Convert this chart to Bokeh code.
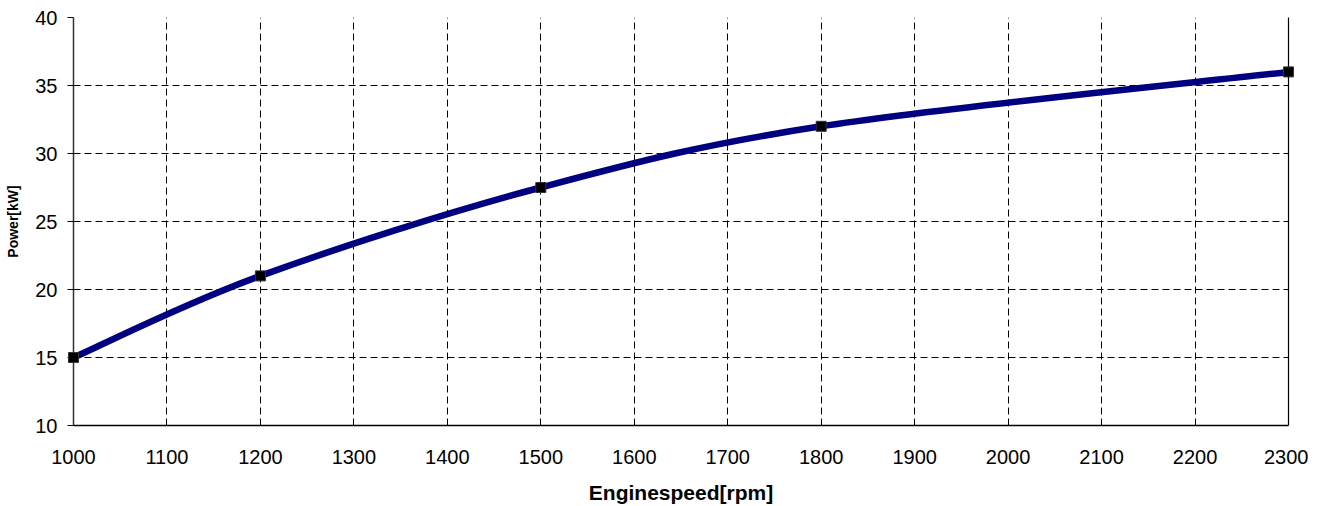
from bokeh.plotting import figure
from bokeh.models import Range1d, FixedTicker, LinearAxis, ColumnDataSource
from bokeh.embed import file_html
from bokeh.resources import INLINE

# data
speed_rpm = [1000, 1200, 1500, 1800, 2300]
power_kw = [15.0, 21.0, 27.5, 32.0, 36.0]
x_ticks = list(range(1000, 2301, 100))
y_ticks = list(range(10, 41, 5))
x_label = "Enginespeed[rpm]"
y_label = "Power[kW]"

FONT = "Liberation Sans"

p = figure(frame_width=1215, frame_height=408, output_backend="svg", toolbar_location=None,
           x_range=Range1d(1000, 2300), y_range=Range1d(10, 40),
           min_border_left=73, min_border_right=20, min_border_top=17, min_border_bottom=75)
p.background_fill_color = "white"
p.border_fill_color = "white"
p.outline_line_color = None

# smoothed curve (Catmull-Rom -> cubic Bezier, Excel-like smoothing)
n = len(speed_rpm)
x0s, y0s, x1s, y1s, cx0, cy0, cx1, cy1 = [], [], [], [], [], [], [], []
for i in range(n - 1):
    xa, ya = speed_rpm[max(i - 1, 0)], power_kw[max(i - 1, 0)]
    xb, yb = speed_rpm[i], power_kw[i]
    xc, yc = speed_rpm[i + 1], power_kw[i + 1]
    xd, yd = speed_rpm[min(i + 2, n - 1)], power_kw[min(i + 2, n - 1)]
    x0s.append(xb); y0s.append(yb); x1s.append(xc); y1s.append(yc)
    cx0.append(xb + (xc - xa) / 6.0); cy0.append(yb + (yc - ya) / 6.0)
    cx1.append(xc - (xd - xb) / 6.0); cy1.append(yc - (yd - yb) / 6.0)

bsrc = ColumnDataSource(dict(x0=x0s, y0=y0s, x1=x1s, y1=y1s, cx0=cx0, cy0=cy0, cx1=cx1, cy1=cy1))
p.bezier(x0="x0", y0="y0", x1="x1", y1="y1", cx0="cx0", cy0="cy0", cx1="cx1", cy1="cy1",
         source=bsrc, line_color="#000080", line_width=6.5)
p.scatter(speed_rpm, power_kw, marker="square", size=10, fill_color="black",
          line_color="#333333", level="overlay")

# axes
p.xaxis.ticker = FixedTicker(ticks=x_ticks)
p.yaxis.ticker = FixedTicker(ticks=y_ticks)
for ax in (p.xaxis[0], p.yaxis[0]):
    ax.major_label_text_font = FONT
    ax.major_label_text_font_size = "20px"
    ax.major_label_text_color = "black"
    ax.axis_label_text_font = FONT
    ax.axis_label_text_font_style = "bold"
    ax.axis_label_text_color = "black"
    ax.minor_tick_line_color = None
    ax.major_tick_in = 0
    ax.axis_line_color = "black"
    ax.axis_line_width = 1.5
    ax.major_tick_line_color = "black"

p.xaxis.axis_label = x_label
p.xaxis.axis_label_text_font_size = "21px"
p.xaxis.major_tick_out = 0
p.xaxis.major_label_standoff = 24
p.xaxis.axis_label_standoff = 14

p.yaxis.axis_label = y_label
p.yaxis.axis_label_text_font_size = "14px"
p.yaxis.major_tick_out = 6
p.yaxis.major_label_standoff = 10
p.yaxis.axis_label_standoff = 11
p.yaxis.axis_line_color = "#333333"

# right border as an axis line
right = LinearAxis(ticker=FixedTicker(ticks=[]), major_label_text_font_size="0px",
                   major_tick_out=0, major_tick_in=0, major_label_standoff=0, axis_label_standoff=0,
                   major_tick_line_color=None, minor_tick_line_color=None,
                   axis_line_color="black", axis_line_width=1.2)
p.add_layout(right, "right")

# grids
p.xgrid.ticker = FixedTicker(ticks=x_ticks)
p.ygrid.ticker = FixedTicker(ticks=y_ticks)
for g in (p.xgrid[0], p.ygrid[0]):
    g.grid_line_color = "black"
    g.grid_line_dash = "7 4"
    g.grid_line_width = 1

open("out.html", "w").write(file_html(p, INLINE))
